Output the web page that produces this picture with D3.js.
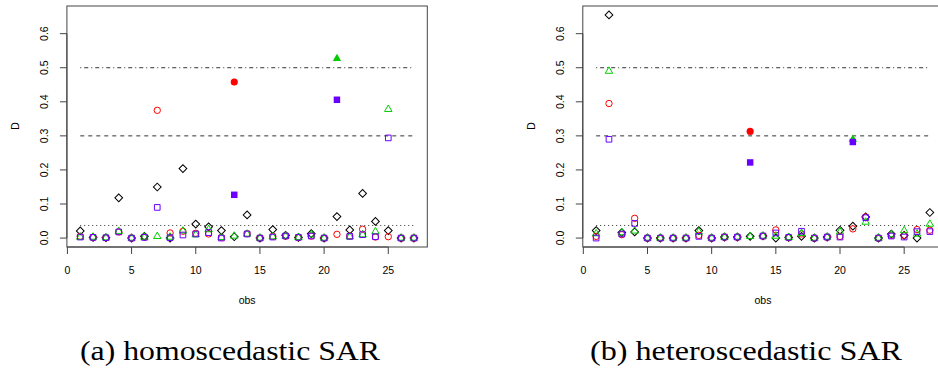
<!DOCTYPE html>
<html>
<head>
<meta charset="utf-8">
<script src="https://cdn.jsdelivr.net/npm/d3@7"></script>
<style>
  body { margin: 0; background: #fff; }
  svg { display: block; }
  .tick-label, .axis-title { font-family: "Liberation Sans", Arial, sans-serif; font-size: 10.5px; fill: #000; }
  .caption { font-family: "Liberation Serif", "DejaVu Serif", serif; font-size: 28px; fill: #000; }
</style>
</head>
<body>
<div id="chart"></div>
<script>
// observation index
const obs = [1,2,3,4,5,6,7,8,9,10,11,12,13,14,15,16,17,18,19,20,21,22,23,24,25,26,27];

// (a) homoscedastic SAR
const homoBlack  = [0.021,0.002,0.001,0.118,0.000,0.005,0.150,0.000,0.204,0.041,0.033,0.022,0.004,0.068,0.000,0.025,0.008,0.002,0.013,0.000,0.063,0.024,0.131,0.049,0.022,0.000,0.000];
const homoRed    = [0.005,0.002,0.001,0.018,0.000,0.003,0.375,0.015,0.020,0.014,0.012,0.002,0.458,0.013,0.000,0.005,0.006,0.002,0.006,0.000,0.011,0.006,0.026,0.003,0.004,0.000,0.000];
const homoGreen  = [0.003,0.003,0.001,0.020,0.000,0.003,0.005,0.003,0.021,0.010,0.025,0.002,0.006,0.012,0.000,0.004,0.006,0.002,0.010,0.000,0.527,0.004,0.010,0.019,0.378,0.000,0.000];
const homoPurple = [0.003,0.002,0.001,0.018,0.000,0.002,0.090,0.001,0.009,0.012,0.016,0.000,0.127,0.012,0.000,0.003,0.006,0.002,0.006,0.000,0.406,0.005,0.010,0.004,0.294,0.000,0.000];
const homoRedFilled = [13];
const homoGreenFilled = [21];
const homoPurpleFilled = [13, 21];

// (b) heteroscedastic SAR
const heteroBlack  = [0.022,0.655,0.016,0.018,0.000,0.000,0.000,0.000,0.022,0.000,0.003,0.003,0.005,0.006,0.000,0.002,0.005,0.000,0.003,0.023,0.035,0.062,0.000,0.012,0.008,0.000,0.075];
const heteroRed    = [0.005,0.395,0.010,0.058,0.000,0.000,0.000,0.000,0.008,0.000,0.003,0.003,0.313,0.006,0.024,0.002,0.012,0.000,0.003,0.005,0.027,0.062,0.000,0.008,0.008,0.025,0.023];
const heteroGreen  = [0.013,0.490,0.016,0.021,0.000,0.000,0.000,0.000,0.018,0.000,0.003,0.003,0.005,0.006,0.006,0.002,0.014,0.000,0.003,0.018,0.290,0.047,0.000,0.010,0.022,0.012,0.041];
const heteroPurple = [0.000,0.290,0.012,0.043,0.000,0.000,0.000,0.000,0.005,0.000,0.003,0.003,0.222,0.006,0.015,0.002,0.020,0.000,0.003,0.003,0.282,0.060,0.000,0.006,0.003,0.019,0.019];
const heteroRedFilled = [13];
const heteroGreenFilled = [21];
const heteroPurpleFilled = [13, 21];

// reference lines
const cutoffs = [0.5, 0.3, 0.037];
const cutoffDash = ['1,3,4,3', '4,4', '1,3'];

const xTicks = [0, 5, 10, 15, 20, 25];
const yTicks = [0.0, 0.1, 0.2, 0.3, 0.4, 0.5, 0.6];
const captions = ['(a) homoscedastic SAR', '(b) heteroscedastic SAR'];

const W = 938, H = 369;
const svg = d3.select('#chart').append('svg')
    .attr('width', W)
    .attr('height', H);

// marker shapes (R pch 5, 1/16, 2/17, 0/15)
const shapes = {
    black:  { type: d3.symbolSquare,   size: 30, rotate: 45, color: '#000000' },
    red:    { type: d3.symbolCircle,   size: 32, filledSize: 40, color: '#FF0000' },
    green:  { type: d3.symbolTriangle, size: 24, filledSize: 30, color: '#00CD00' },
    purple: { type: d3.symbolSquare,   size: 32, filledSize: 42, color: '#6A00FF' }
};

function drawPanel(opts) {
    const x = d3.scaleLinear().domain([-0.04, 28.04]).range([opts.left, opts.left + 360.4]);
    const y = d3.scaleLinear().domain([-0.0262, 0.6812]).range([247, 6]);
    const g = svg.append('g');

    // reference lines from first to last observation
    cutoffs.forEach((c, i) => {
        g.append('line')
            .attr('x1', x(1)).attr('x2', x(27))
            .attr('y1', y(c)).attr('y2', y(c))
            .attr('stroke', '#333')
            .attr('stroke-width', 1)
            .attr('stroke-dasharray', cutoffDash[i]);
    });

    // points
    opts.series.forEach(s => {
        const sh = shapes[s.key];
        g.selectAll(null)
            .data(obs.map((o, i) => ({ o: o, v: s.values[i], filled: s.filled.includes(o) })))
            .enter()
            .append('path')
            .attr('d', d => d3.symbol().type(sh.type).size(d.filled ? sh.filledSize : sh.size)())
            .attr('transform', d => `translate(${x(d.o)},${y(d.v)})` + (sh.rotate ? ` rotate(${sh.rotate})` : ''))
            .attr('fill', d => d.filled ? sh.color : 'none')
            .attr('stroke', d => d.filled ? 'none' : sh.color)
            .attr('stroke-width', 1);
    });

    // plot box
    g.append('rect')
        .attr('x', x(-0.04)).attr('y', 6)
        .attr('width', x(28.04) - x(-0.04))
        .attr('height', 241)
        .attr('fill', 'none')
        .attr('stroke', '#444')
        .attr('stroke-width', 1);

    // x axis
    const xAxis = g.append('g').attr('transform', 'translate(0,247)');
    xAxis.append('line')
        .attr('x1', x(0)).attr('x2', x(25))
        .attr('stroke', '#444');
    xAxis.selectAll('.xt')
        .data(xTicks)
        .enter()
        .append('line')
        .attr('x1', d => x(d)).attr('x2', d => x(d))
        .attr('y1', 0).attr('y2', 7)
        .attr('stroke', '#444');
    xAxis.selectAll('.xl')
        .data(xTicks)
        .enter()
        .append('text')
        .attr('class', 'tick-label')
        .attr('x', d => x(d))
        .attr('y', 27)
        .attr('text-anchor', 'middle')
        .text(d => d);

    // y axis
    const x0 = x(-0.04);
    const yAxis = g.append('g');
    yAxis.append('line')
        .attr('x1', x0).attr('x2', x0)
        .attr('y1', y(0)).attr('y2', y(0.6))
        .attr('stroke', '#444');
    yAxis.selectAll('.yt')
        .data(yTicks)
        .enter()
        .append('line')
        .attr('x1', x0 - 7).attr('x2', x0)
        .attr('y1', d => y(d)).attr('y2', d => y(d))
        .attr('stroke', '#444');
    yAxis.selectAll('.yl')
        .data(yTicks)
        .enter()
        .append('text')
        .attr('class', 'tick-label')
        .attr('transform', d => `translate(${x0 - 19},${y(d)}) rotate(-90)`)
        .attr('text-anchor', 'middle')
        .text(d => d3.format('.1f')(d));

    // axis titles
    g.append('text')
        .attr('class', 'axis-title')
        .attr('x', (x(-0.04) + x(28.04)) / 2)
        .attr('y', 304)
        .attr('text-anchor', 'middle')
        .text('obs');
    g.append('text')
        .attr('class', 'axis-title')
        .attr('transform', `translate(${x0 - 48},126) rotate(-90)`)
        .attr('text-anchor', 'middle')
        .text('D');

    // caption
    g.append('text')
        .attr('class', 'caption')
        .attr('x', opts.captionX)
        .attr('y', 360)
        .attr('text-anchor', 'middle')
        .attr('textLength', opts.captionLen)
        .attr('lengthAdjust', 'spacingAndGlyphs')
        .text(opts.caption);
}

drawPanel({
    left: 66.9,
    caption: captions[0],
    captionX: 230,
    captionLen: 300,
    series: [
        { key: 'black', values: homoBlack, filled: [] },
        { key: 'red', values: homoRed, filled: homoRedFilled },
        { key: 'green', values: homoGreen, filled: homoGreenFilled },
        { key: 'purple', values: homoPurple, filled: homoPurpleFilled }
    ]
});

drawPanel({
    left: 582.8,
    caption: captions[1],
    captionX: 746,
    captionLen: 312,
    series: [
        { key: 'black', values: heteroBlack, filled: [] },
        { key: 'red', values: heteroRed, filled: heteroRedFilled },
        { key: 'green', values: heteroGreen, filled: heteroGreenFilled },
        { key: 'purple', values: heteroPurple, filled: heteroPurpleFilled }
    ]
});
</script>
</body>
</html>
